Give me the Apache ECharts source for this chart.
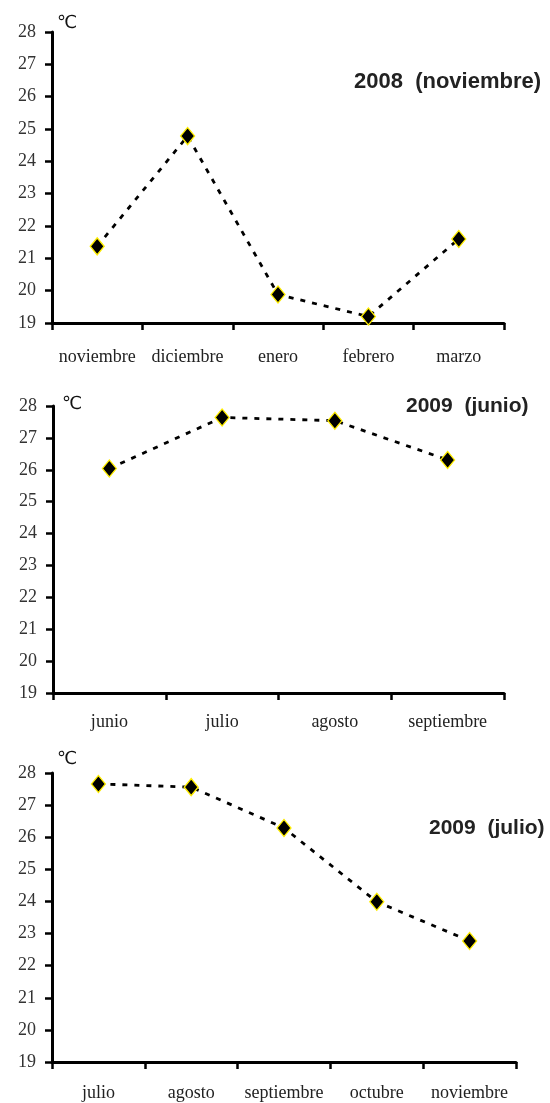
<!DOCTYPE html>
<html><head><meta charset="utf-8">
<script src="https://cdn.jsdelivr.net/npm/echarts@6/dist/echarts.min.js"></script>
<style>html,body{margin:0;padding:0;background:#fff}#c{width:550px;height:1103px}</style>
</head><body><div id="c"></div>
<script>
const cats1 = ['noviembre','diciembre','enero','febrero','marzo'];
const vals1 = [21.37, 24.78, 19.88, 19.2, 21.6];
const cats2 = ['junio','julio','agosto','septiembre'];
const vals2 = [26.04, 27.64, 27.54, 26.31];
const cats3 = ['julio','agosto','septiembre','octubre','noviembre'];
const vals3 = [27.66, 27.56, 26.29, 23.99, 22.77];
const titles = ['2008  (noviembre)', '2009  (junio)', '2009  (julio)'];
const unit = '℃';
const yMin = 19, yMax = 28, yStep = 1;

const grids = [
  {left: 52, top: 32, width: 452, height: 291},
  {left: 53, top: 406, width: 451, height: 287},
  {left: 52, top: 773, width: 464, height: 289}
];
const labelMargins = [25, 20, 22];
const catsAll = [cats1, cats2, cats3];
const valsAll = [vals1, vals2, vals3];
const titleSizes = [22, 21, 21];
const titlePos = [{left: 354, top: 71}, {left: 406, top: 396}, {left: 429, top: 818}];
const unitPos = [{left: 57, top: 14}, {left: 62, top: 395}, {left: 57, top: 750}];

const axisLine = {show: true, lineStyle: {color: '#000', width: 3}};
const xAxis = [], yAxis = [], series = [], title = [];
for (let i = 0; i < 3; i++) {
  xAxis.push({
    type: 'category', gridIndex: i, data: catsAll[i], boundaryGap: true,
    axisLine: axisLine,
    axisTick: {show: true, interval: 0, length: 7, inside: false, lineStyle: {color: '#000', width: 2.5}},
    axisLabel: {interval: 0, fontFamily: 'Liberation Serif', fontSize: 18, color: '#222', margin: labelMargins[i]},
    splitLine: {show: false}
  });
  yAxis.push({
    type: 'value', gridIndex: i, min: yMin, max: yMax, interval: yStep,
    axisLine: axisLine,
    axisTick: {show: true, length: 7, lineStyle: {color: '#000', width: 2.5}},
    axisLabel: {fontFamily: 'Liberation Serif', fontSize: 18, color: '#333', margin: 16},
    splitLine: {show: false}
  });
  series.push({
    type: 'line', xAxisIndex: i, yAxisIndex: i, data: valsAll[i],
    smooth: false,
    symbol: 'diamond', symbolSize: [14, 17],
    lineStyle: {color: '#000', width: 2.8, type: [5, 7]},
    itemStyle: {color: '#000', borderColor: '#ffee00', borderWidth: 1.3},
    z: 3
  });
  title.push({
    text: titles[i], left: titlePos[i].left, top: titlePos[i].top, padding: 0,
    textStyle: {fontFamily: 'Liberation Sans', fontWeight: 'bold', fontSize: titleSizes[i], color: '#222'}
  });
  title.push({
    text: unit, left: unitPos[i].left, top: unitPos[i].top, padding: 0,
    textStyle: {fontFamily: 'DejaVu Sans', fontWeight: 'normal', fontSize: 18, color: '#111'}
  });
}

const chart = echarts.init(document.getElementById('c'), null, {renderer: 'canvas'});
chart.setOption({
  animation: false,
  backgroundColor: '#fff',
  title: title,
  grid: grids,
  xAxis: xAxis,
  yAxis: yAxis,
  series: series
});
</script>
</body></html>
